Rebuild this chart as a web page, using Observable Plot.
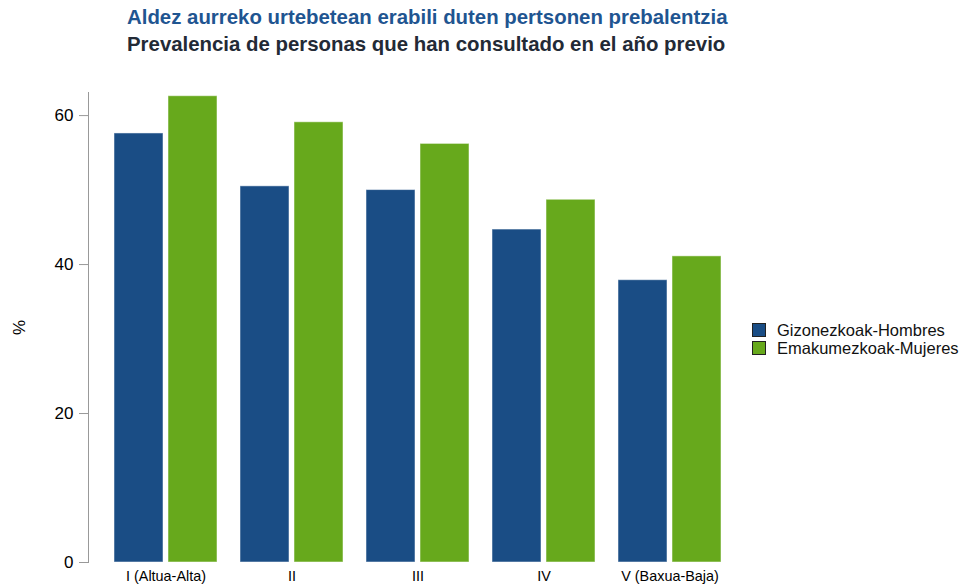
<!DOCTYPE html>
<html>
<head>
<meta charset="utf-8">
<script src="https://cdn.jsdelivr.net/npm/d3@7"></script>
<script src="https://cdn.jsdelivr.net/npm/@observablehq/plot@0.6"></script>
<style>
  body { margin: 0; background: #fff; font-family: "Liberation Sans", Arial, sans-serif; }
  #wrap { position: relative; width: 960px; height: 587px; overflow: hidden; }
  #titles { height: 60px; box-sizing: border-box; padding-left: 127px; padding-top: 4px; }
  .t1 { font-size: 20.4px; font-weight: bold; color: #1f5591; line-height: 27px; white-space: nowrap; }
  .t2 { font-size: 20.4px; font-weight: bold; color: #232a36; line-height: 27px; white-space: nowrap; }
  #legend { position: absolute; left: 752px; top: 321px; font-size: 16.5px; color: #111; }
  .li { display: flex; align-items: center; height: 18px; white-space: nowrap; }
  .sw { width: 12px; height: 12px; border: 1px solid #222; margin-right: 11px; }
  g[aria-label="y-axis tick"] { stroke: #999; }
</style>
</head>
<body>
<div id="wrap">
  <div id="titles">
    <div class="t1">Aldez aurreko urtebetean erabili duten pertsonen prebalentzia</div>
    <div class="t2">Prevalencia de personas que han consultado en el año previo</div>
  </div>
  <div id="chart"></div>
  <div id="legend"></div>
</div>
<script>
const categories = ["I (Altua-Alta)", "II", "III", "IV", "V (Baxua-Baja)"];
const seriesNames = ["Gizonezkoak-Hombres", "Emakumezkoak-Mujeres"];
const men = [57.6, 50.5, 50.0, 44.7, 37.9];
const women = [62.6, 59.1, 56.2, 48.7, 41.1];
const yTicks = [0, 20, 40, 60];
const colors = ["#1a4d85", "#67a91c"];

const menData = categories.map((c, i) => ({cat: c, value: men[i]}));
const womenData = categories.map((c, i) => ({cat: c, value: women[i]}));

const chart = Plot.plot({
  width: 960,
  height: 527,
  marginLeft: 88,
  marginRight: 213,
  marginTop: 32,
  marginBottom: 25,
  style: {fontFamily: "'Liberation Sans', Arial, sans-serif", fontSize: "12px", color: "#000", background: "#fff"},
  x: {type: "band", domain: categories, paddingInner: 0.1825, paddingOuter: 0.206, axis: null},
  y: {domain: [0, 63.1], axis: null},
  marks: [
    Plot.barY(menData, {x: "cat", y: "value", fill: colors[0], insetRight: 54, stroke: "#fff", strokeOpacity: 0.5, strokeWidth: 1}),
    Plot.barY(womenData, {x: "cat", y: "value", fill: colors[1], insetLeft: 54, stroke: "#fff", strokeOpacity: 0.5, strokeWidth: 1}),
    Plot.frame({anchor: "left", stroke: "#999"}),
    Plot.axisY({ticks: yTicks, tickSize: 9, tickPadding: 6, fontSize: 17, label: "%", labelAnchor: "center", labelOffset: 76, labelArrow: "none"}),
    Plot.axisX({tickSize: 0, tickPadding: 8, fontSize: 14.4, label: null})
  ]
});
document.getElementById("chart").appendChild(chart);

const legend = document.getElementById("legend");
seriesNames.forEach((name, i) => {
  const row = document.createElement("div");
  row.className = "li";
  const sw = document.createElement("div");
  sw.className = "sw";
  sw.style.background = colors[i];
  const tx = document.createElement("span");
  tx.textContent = name;
  row.appendChild(sw);
  row.appendChild(tx);
  legend.appendChild(row);
});
</script>
</body>
</html>
